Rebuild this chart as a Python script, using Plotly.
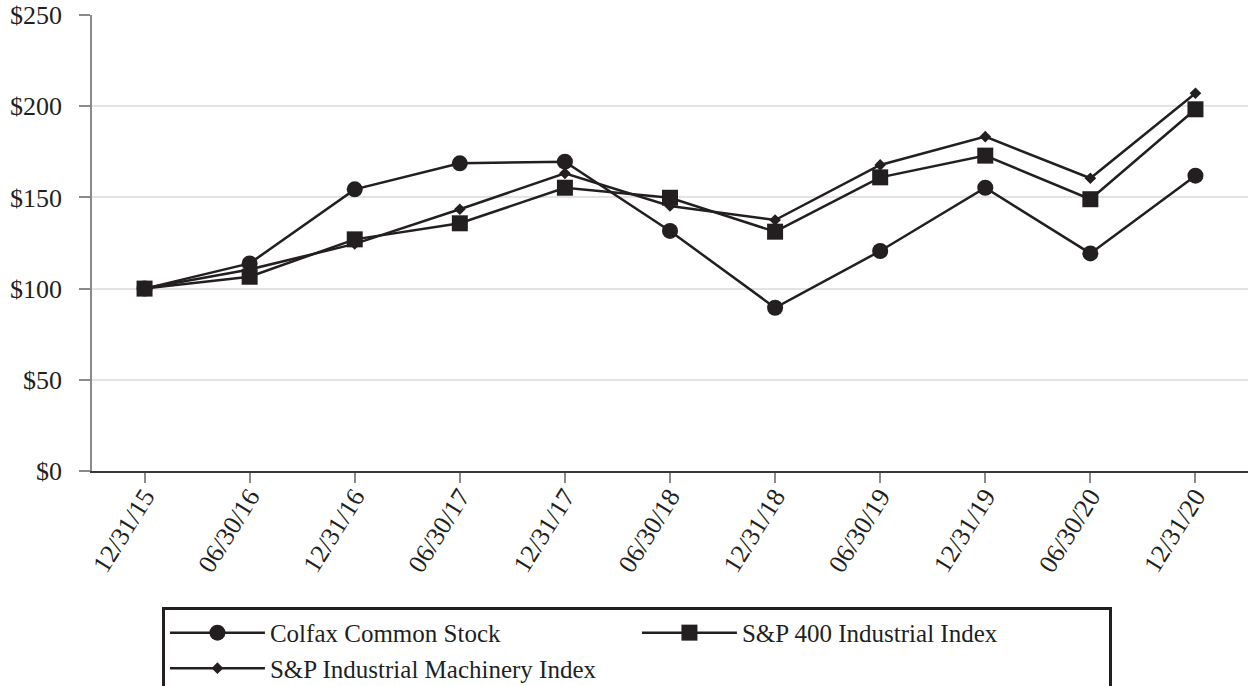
import plotly.graph_objects as go

dates = ["12/31/15", "06/30/16", "12/31/16", "06/30/17", "12/31/17", "06/30/18",
         "12/31/18", "06/30/19", "12/31/19", "06/30/20", "12/31/20"]
colfax = [100, 113.8, 154.4, 168.7, 169.6, 131.6, 89.5, 120.6, 155.3, 119.3, 161.9]
sp400_industrial = [100, 106.5, 127.0, 135.8, 155.3, 149.8, 131.2, 161.0, 172.9, 149.0, 198.3]
sp_machinery = [100, 110.5, 124.5, 143.5, 163.2, 145.3, 137.6, 167.8, 183.3, 160.5, 207.1]

INK = "#231f20"
FONT = "Liberation Serif, Times New Roman, serif"

fig = go.Figure()
fig.add_trace(go.Scatter(x=dates, y=colfax, name="Colfax Common Stock", mode="lines+markers",
                         line=dict(color=INK, width=2.5),
                         marker=dict(symbol="circle", size=16, color=INK)))
fig.add_trace(go.Scatter(x=dates, y=sp400_industrial, name="S&P 400 Industrial Index", mode="lines+markers",
                         line=dict(color=INK, width=2.5),
                         marker=dict(symbol="square", size=16, color=INK)))
fig.add_trace(go.Scatter(x=dates, y=sp_machinery, name="S&P Industrial Machinery Index", mode="lines+markers",
                         line=dict(color=INK, width=2.5),
                         marker=dict(symbol="diamond", size=9, color=INK)))

fig.update_layout(
    width=1248, height=686,
    margin=dict(l=92, r=0, t=15, b=215, autoexpand=False),
    paper_bgcolor="white", plot_bgcolor="white",
    font=dict(family=FONT, size=25, color=INK),
    showlegend=True,
    legend=dict(
        orientation="h",
        x=0.0605, xanchor="left",
        y=-0.298, yanchor="top",
        bordercolor=INK, borderwidth=3,
        bgcolor="white",
        font=dict(family=FONT, size=25, color=INK),
        itemwidth=95,
        entrywidth=362,
        traceorder="normal",
    ),
)
fig.update_xaxes(
    type="category",
    range=[-0.5, 10.5],
    tickangle=-58,
    ticks="outside", ticklen=10, tickwidth=1.5, tickcolor="#8a8a8a",
    showline=True, linecolor="#3a3a3a", linewidth=2,
    showgrid=False,
    automargin=False,
    tickfont=dict(family=FONT, size=26, color=INK),
    ticklabelstandoff=-12,
    ticklabeloverflow="allow",
)
fig.update_yaxes(
    range=[0, 250], dtick=50, tickprefix="$",
    ticks="outside", ticklen=11, tickwidth=1.5, tickcolor="#8a8a8a",
    showline=True, linecolor="#8a8a8a", linewidth=1.5,
    showgrid=True, gridcolor="#e3e3e3", gridwidth=1.5,
    zeroline=False,
    automargin=False,
    tickfont=dict(family=FONT, size=26, color=INK),
    ticklabelstandoff=12,
    ticklabeloverflow="allow",
)

fig.write_html("out.html", config={"displayModeBar": False},
               post_script="document.body.style.margin='0';")
